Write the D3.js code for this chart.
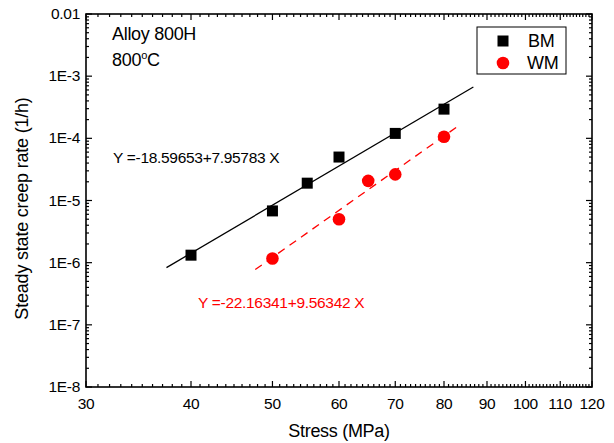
<!DOCTYPE html>
<html>
<head>
<meta charset="utf-8">
<script src="https://cdn.jsdelivr.net/npm/d3@7"></script>
<style>
  body { margin: 0; background: #fff; }
  svg text { font-family: "Liberation Sans", Arial, sans-serif; }
</style>
</head>
<body>
<div id="chart"></div>
<script>
// data
const bmStress = [40, 50, 55, 60, 70, 80];
const bmRate = [1.32e-6, 6.8e-6, 1.9e-5, 5.0e-5, 1.2e-4, 2.95e-4];
const wmStress = [50, 60, 65, 70, 80];
const wmRate = [1.17e-6, 5.0e-6, 2.07e-5, 2.63e-5, 1.06e-4];
// log10(rate) = a + b*log10(stress), with the drawn range of each fit line
const bmFit = [-18.59653, 7.95783];
const bmFitRange = [37.4, 86.7];
const wmFit = [-22.16341, 9.56342];
const wmFitRange = [47.7, 83.8];
const xTicks = [30, 40, 50, 60, 70, 80, 90, 100, 110, 120];
const yTicks = [1e-8, 1e-7, 1e-6, 1e-5, 1e-4, 1e-3, 1e-2];
const yTickLabels = ["1E-8", "1E-7", "1E-6", "1E-5", "1E-4", "1E-3", "0.01"];

const W = 614, H = 443;
const margin = {left: 86, right: 22, top: 14, bottom: 56};
const plotW = W - margin.left - margin.right;
const plotH = H - margin.top - margin.bottom;

const svg = d3.select("#chart").append("svg")
    .attr("width", W)
    .attr("height", H);

const x = d3.scaleLog().domain([30, 120]).range([margin.left, margin.left + plotW]);
const y = d3.scaleLog().domain([1e-8, 1e-2]).range([margin.top + plotH, margin.top]);

// minor ticks
const xMinor = d3.range(30, 121, 1).filter(v => v % 10 !== 0);
let yMinor = [];
yTicks.slice(0, -1).forEach(d => {
    for (let k = 2; k <= 9; k++) yMinor.push(d * k);
});

let axes = svg.append("g").attr("stroke", "#000").attr("stroke-width", 1.2);
let x0 = margin.left, x1 = margin.left + plotW, y0 = margin.top + plotH, y1 = margin.top;

// x ticks, bottom and top, pointing inward
xTicks.forEach(v => {
    axes.append("line").attr("x1", x(v)).attr("x2", x(v)).attr("y1", y0).attr("y2", y0 - 6);
    axes.append("line").attr("x1", x(v)).attr("x2", x(v)).attr("y1", y1).attr("y2", y1 + 6);
});
xMinor.forEach(v => {
    axes.append("line").attr("x1", x(v)).attr("x2", x(v)).attr("y1", y0).attr("y2", y0 - 3);
    axes.append("line").attr("x1", x(v)).attr("x2", x(v)).attr("y1", y1).attr("y2", y1 + 3);
});
// y ticks, left and right
yTicks.forEach(v => {
    axes.append("line").attr("y1", y(v)).attr("y2", y(v)).attr("x1", x0).attr("x2", x0 + 6);
    axes.append("line").attr("y1", y(v)).attr("y2", y(v)).attr("x1", x1).attr("x2", x1 - 6);
});
yMinor.forEach(v => {
    axes.append("line").attr("y1", y(v)).attr("y2", y(v)).attr("x1", x0).attr("x2", x0 + 3);
    axes.append("line").attr("y1", y(v)).attr("y2", y(v)).attr("x1", x1).attr("x2", x1 - 3);
});

svg.append("rect")
    .attr("x", x0).attr("y", y1)
    .attr("width", plotW).attr("height", plotH)
    .attr("fill", "none").attr("stroke", "#000").attr("stroke-width", 1.6);

// tick labels
svg.append("g").selectAll("text").data(xTicks).join("text")
    .attr("x", d => x(d)).attr("y", y0 + 22)
    .attr("text-anchor", "middle").attr("font-size", 15.5)
    .attr("letter-spacing", -0.3)
    .text(d => d);
svg.append("g").selectAll("text").data(yTicks).join("text")
    .attr("x", x0 - 6).attr("y", d => y(d) + 5)
    .attr("text-anchor", "end").attr("font-size", 15.5)
    .attr("letter-spacing", -0.3)
    .text((d, i) => yTickLabels[i]);

// axis titles
svg.append("text")
    .attr("x", (x0 + x1) / 2 + 0).attr("y", 437)
    .attr("text-anchor", "middle").attr("font-size", 18)
    .attr("letter-spacing", -0.3)
    .text("Stress (MPa)");
svg.append("text")
    .attr("transform", `translate(28,${(y0 + y1) / 2 + 8}) rotate(-90)`)
    .attr("text-anchor", "middle").attr("font-size", 18)
    .attr("letter-spacing", -0.2)
    .text("Steady state creep rate (1/h)");

// fit lines
let fitPoints = function (fit, range) {
    return range.map(s => [s, Math.pow(10, fit[0] + fit[1] * Math.log10(s))]);
};
const line = d3.line().x(d => x(d[0])).y(d => y(d[1]));
svg.append("path")
    .attr("d", line(fitPoints(bmFit, bmFitRange)))
    .attr("fill", "none").attr("stroke", "#000").attr("stroke-width", 1.3);
svg.append("path")
    .attr("d", line(fitPoints(wmFit, wmFitRange)))
    .attr("fill", "none").attr("stroke", "#ff0000").attr("stroke-width", 1.3)
    .attr("stroke-dasharray", "8,6");

// markers
const sq = 11;
svg.append("g").selectAll("rect").data(bmStress).join("rect")
    .attr("x", (d, i) => x(d) - sq / 2)
    .attr("y", (d, i) => y(bmRate[i]) - sq / 2)
    .attr("width", sq).attr("height", sq)
    .attr("fill", "#000");
svg.append("g").selectAll("circle").data(wmStress).join("circle")
    .attr("cx", d => x(d))
    .attr("cy", (d, i) => y(wmRate[i]))
    .attr("r", 6.3)
    .attr("fill", "#ff0000");

// annotations
svg.append("text").attr("x", 112).attr("y", 40).attr("font-size", 18).attr("letter-spacing", -0.3).text("Alloy 800H");
let t = svg.append("text").attr("x", 112).attr("y", 66).attr("font-size", 18).attr("letter-spacing", -0.3);
t.append("tspan").text("800");
t.append("tspan").attr("font-size", 11).attr("dy", -7).text("o");
t.append("tspan").attr("dy", 7).text("C");

svg.append("text").attr("x", 113).attr("y", 163).attr("font-size", 15.5)
    .attr("letter-spacing", -0.3)
    .text("Y =-18.59653+7.95783 X");
svg.append("text").attr("x", 198).attr("y", 308).attr("font-size", 15.5)
    .attr("letter-spacing", -0.3).attr("fill", "#ff0000")
    .text("Y =-22.16341+9.56342 X");

// legend
let legend = svg.append("g");
legend.append("rect")
    .attr("x", 477).attr("y", 27).attr("width", 89).attr("height", 47)
    .attr("fill", "#fff").attr("stroke", "#000").attr("stroke-width", 1);
legend.append("rect")
    .attr("x", 503 - sq / 2).attr("y", 41 - sq / 2).attr("width", sq).attr("height", sq)
    .attr("fill", "#000");
legend.append("circle").attr("cx", 503).attr("cy", 63).attr("r", 6.3).attr("fill", "#ff0000");
legend.append("text").attr("x", 528).attr("y", 47).attr("font-size", 18).attr("letter-spacing", -0.3).text("BM");
legend.append("text").attr("x", 527).attr("y", 69).attr("font-size", 18).attr("letter-spacing", -0.3).text("WM");
</script>
</body>
</html>
